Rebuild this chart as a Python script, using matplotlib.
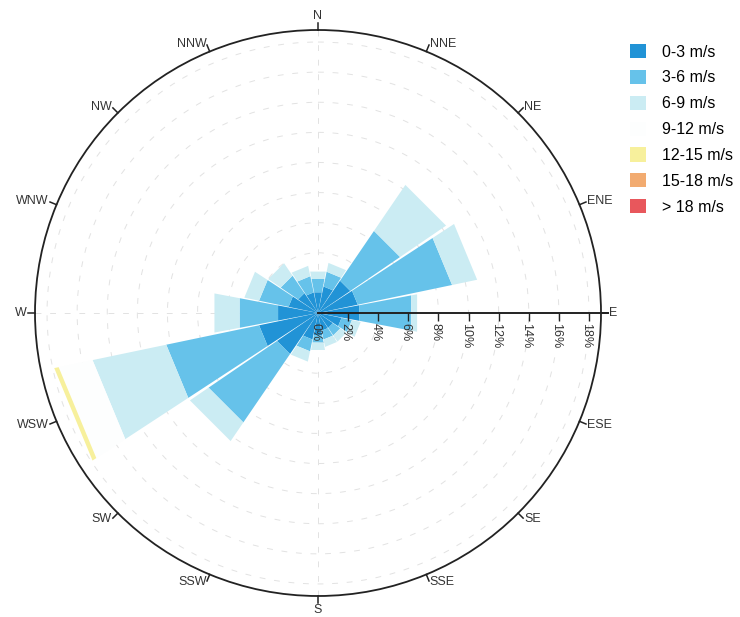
import numpy as np
import matplotlib.pyplot as plt
from matplotlib.patches import Patch

plt.rcParams['font.family'] = ['Liberation Sans', 'DejaVu Sans']

# 16 compass sectors, frequency (%) per speed class
directions = ["N", "NNE", "NE", "ENE", "E", "ESE", "SE", "SSE",
              "S", "SSW", "SW", "WSW", "W", "WNW", "NW", "NNW"]
speed_labels = ["0-3 m/s", "3-6 m/s", "6-9 m/s", "9-12 m/s",
                "12-15 m/s", "15-18 m/s", "> 18 m/s"]
speed_colors = ["#2193d6", "#66c2ea", "#cbecf3", "#fdfefe",
                "#f7f09c", "#f2ab70", "#e8575c"]

f_0_3 = [1.4, 1.8, 2.6, 2.7, 2.8, 1.6, 1.2, 1.2, 1.5, 1.8, 3.3, 4.0, 2.7, 2.0, 1.6, 1.4]
f_3_6 = [0.9, 1.0, 4.0, 6.4, 3.5, 0.7, 0.6, 0.6, 0.5, 0.8, 5.5, 6.3, 2.6, 2.0, 1.4, 1.1]
f_6_9 = [0.5, 0.6, 3.7, 1.7, 0.4, 0.6, 0.5, 0.5, 0.5, 0.7, 1.5, 5.0, 1.7, 1.0, 1.0, 0.7]
f_9_12 = [0, 0, 0, 0, 0, 0, 0, 0, 0, 0, 0, 2.3, 0, 0, 0, 0]
f_12_15 = [0, 0, 0, 0, 0, 0, 0, 0, 0, 0, 0, 0.3, 0, 0, 0, 0]
f_15_18 = [0] * 16
f_18_up = [0] * 16

radial_ticks = [0, 2, 4, 6, 8, 10, 12, 14, 16, 18]
r_max = 18.8

bands = [f_0_3, f_3_6, f_6_9, f_9_12, f_12_15, f_15_18, f_18_up]
theta = np.radians(np.arange(16) * 22.5)

fig = plt.figure(figsize=(7.4, 6.17), dpi=100)
ax = fig.add_axes([35 / 740, 21 / 617, 566 / 740, 566 / 617], projection="polar")
ax.set_theta_zero_location("N")
ax.set_theta_direction(-1)
ax.set_ylim(0, r_max)

# very faint dashed grid
ax.set_axisbelow(True)
ax.set_xticks(np.radians([0, 90, 180, 270]))
ax.set_yticks(radial_ticks[1:])
ax.set_xticklabels([])
ax.set_yticklabels([])
ax.tick_params(length=0)
ax.grid(color="#e2e2e2", linestyle=(0, (6, 9)), linewidth=0.7)
ax.spines["polar"].set_color("#222222")
ax.spines["polar"].set_linewidth(1.3)

# stacked petals (straight outer edges)
bottom = np.zeros(16)
for vals, col in zip(bands, speed_colors):
    vals = np.array(vals, dtype=float)
    bars = ax.bar(theta, vals, width=np.radians(21.4), bottom=bottom,
                  color=col, edgecolor="none", zorder=2)
    for b in bars:
        b._interpolation_steps = 1
        b.get_path()._interpolation_steps = 1
    bottom += vals

# radial axis along E with ticks and labels
ax.plot([np.pi / 2, np.pi / 2], [0, r_max * 1.025], color="#222222",
        lw=1.4, zorder=5, clip_on=False)
ax.plot(np.full(len(radial_ticks) - 1, np.pi / 2), radial_ticks[1:],
        linestyle="none", marker=3, markersize=6, color="#222222",
        zorder=5, clip_on=False)
for r in radial_ticks:
    ax.annotate(f"{r}%", xy=(np.pi / 2, r), xytext=(-2, -7),
                textcoords="offset points", rotation=270,
                ha="center", va="top", fontsize=9, color="#333333")

# compass ticks and labels outside the circle
for th, name in zip(theta, directions):
    ax.plot([th, th], [r_max, r_max * 1.025], color="#222222", lw=1.1,
            clip_on=False)
    s = np.sin(th)
    c = np.cos(th)
    if s > 0.01:
        ha, va = "left", "center"
    elif s < -0.01:
        ha, va = "right", "center"
    else:
        ha = "center"
        va = "bottom" if c > 0 else "top"
    ax.text(th, r_max * 1.03, name, ha=ha, va=va, fontsize=9,
            color="#333333", clip_on=False)

handles = [Patch(facecolor=c, edgecolor="none") for c in speed_colors]
fig.legend(handles, speed_labels, loc="upper left",
           bbox_to_anchor=(630 / 740, 1 - 44 / 617), frameon=False,
           fontsize=11.5, handlelength=1.0, handleheight=1.0,
           handletextpad=1.0, labelspacing=0.64, borderpad=0,
           borderaxespad=0)

plt.savefig("out.png", dpi=100)
